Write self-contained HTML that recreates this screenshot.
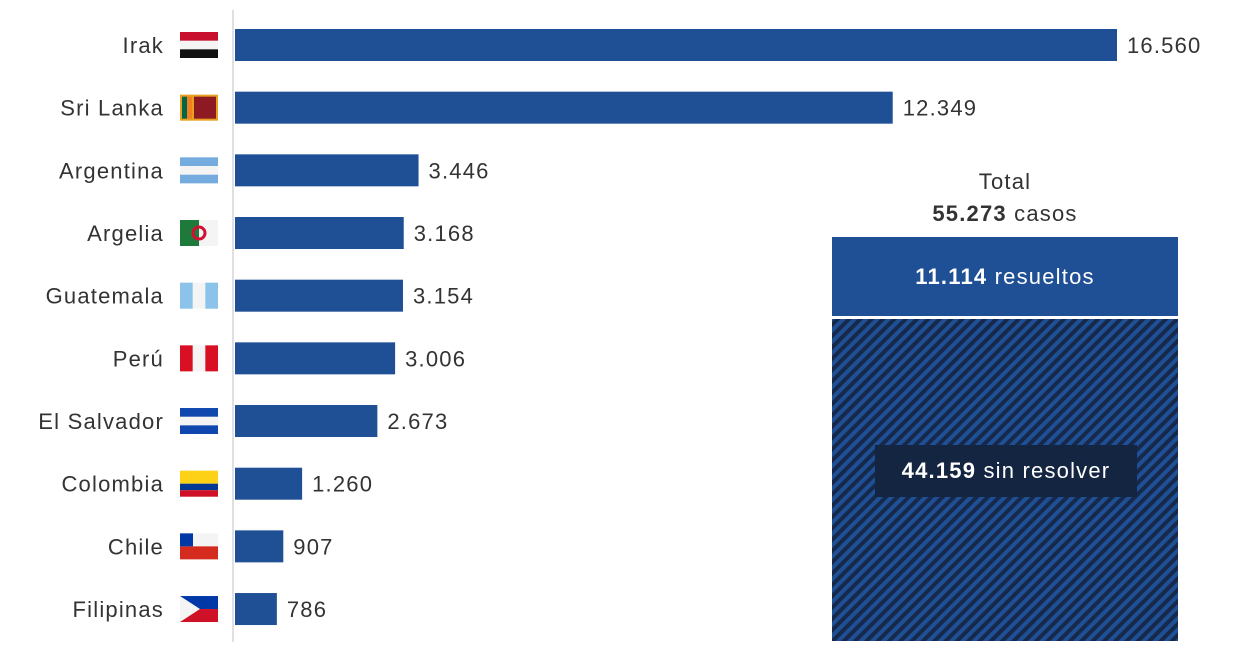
<!DOCTYPE html>
<html><head><meta charset="utf-8"><style>
html,body{margin:0;padding:0;background:#fff;}
svg{display:block;font-family:"Liberation Sans",sans-serif;}
text{letter-spacing:1.2px;}
</style></head><body>
<svg id="chart" width="1242" height="648" viewBox="0 0 1242 648">
<defs>
<pattern id="hatch" patternUnits="userSpaceOnUse" width="8" height="8" patternTransform="rotate(45)">
<rect width="8" height="8" fill="#1f4f95"/>
<rect width="4" height="8" fill="#17294a"/>
</pattern>
</defs>
<line x1="233" y1="10" x2="233" y2="642" stroke="#e0e0e0" stroke-width="2"/>
<g id="bars"></g>
<g>
<text x="1005" y="189" font-size="22" fill="#333" text-anchor="middle">Total</text>
<text x="1005" y="221" font-size="22" fill="#333" text-anchor="middle"><tspan font-weight="bold">55.273</tspan> casos</text>
<rect x="832" y="237" width="346" height="79" fill="#1f4f95"/>
<text x="1005" y="284" font-size="22" fill="#fff" text-anchor="middle"><tspan font-weight="bold">11.114</tspan> resueltos</text>
<rect x="832" y="319" width="346" height="322" fill="url(#hatch)"/>
<rect x="875" y="445" width="262" height="52" fill="#132540"/>
<text x="1006" y="478" font-size="22" fill="#fff" text-anchor="middle"><tspan font-weight="bold">44.159</tspan> sin resolver</text>
</g>
</svg>
<script>
const categories=["Irak","Sri Lanka","Argentina","Argelia","Guatemala","Perú","El Salvador","Colombia","Chile","Filipinas"];
const values=[16560,12349,3446,3168,3154,3006,2673,1260,907,786];
const valueLabels=["16.560","12.349","3.446","3.168","3.154","3.006","2.673","1.260","907","786"];
const NS="http://www.w3.org/2000/svg";
const x0=235, pxPerUnit=882/16560;
function xScale(v){return v*pxPerUnit;}
function yCenter(i){return 45+i*62.67;}
const g=document.getElementById('bars');
function mk(tag,attrs){const e=document.createElementNS(NS,tag);for(const k in attrs)e.setAttribute(k,attrs[k]);return e;}
function flag(i,name,y){
  const fg=mk('g',{});
  
  
  const x=180,w=38,h=26,t=y-13;
  const r=(xx,yy,ww,hh,c)=>fg.appendChild(mk('rect',{x:xx,y:yy,width:ww,height:hh,fill:c}));
  r(x,t,w,h,'#f4f4f4');
  switch(i){
    case 0:r(x,t,w,h/3,'#c8102e');r(x,t+2*h/3,w,h/3,'#111');break;
    case 1:r(x,t,w,h,'#e8a020');r(x+2,t+2,5,h-4,'#00664a');r(x+7,t+2,5,h-4,'#f08020');r(x+14,t+2,22,h-4,'#8d1a22');break;
    case 2:r(x,t,w,h/3,'#74acdf');r(x,t+2*h/3,w,h/3,'#74acdf');break;
    case 3:r(x,t,w/2,h,'#1e7a3a');fg.appendChild(mk('circle',{cx:x+w/2,cy:y,r:6,fill:'none',stroke:'#d21034','stroke-width':3}));break;
    case 4:r(x,t,w/3,h,'#8cc3ea');r(x+2*w/3,t,w/3,h,'#8cc3ea');break;
    case 5:r(x,t,w/3,h,'#d91023');r(x+2*w/3,t,w/3,h,'#d91023');break;
    case 6:r(x,t,w,h/3,'#0f47af');r(x,t+2*h/3,w,h/3,'#0f47af');break;
    case 7:r(x,t,w,h/2,'#fcd116');r(x,t+h/2,w,h/4,'#003893');r(x,t+3*h/4,w,h/4,'#ce1126');break;
    case 8:r(x,t+h/2,w,h/2,'#d52b1e');r(x,t,13,h/2,'#0039a6');break;
    case 9:r(x,t,w,h/2,'#0038a8');r(x,t+h/2,w,h/2,'#ce1126');fg.appendChild(mk('polygon',{points:`${x},${t} ${x+20},${y} ${x},${t+h}`,fill:'#f4f4f4'}));break;
  }
  return fg;
}
categories.forEach((c,i)=>{
  const y=yCenter(i);
  const lbl=mk('text',{x:164,y:y+8,'font-size':22,fill:'#333','text-anchor':'end'});
  lbl.textContent=c;
  
  
  g.appendChild(lbl);
  g.appendChild(flag(i,c,y));
  const w=xScale(values[i]);
  const bar=mk('rect',{x:x0,y:y-16,width:w,height:32,fill:'#1f4f95'});
  
  
  g.appendChild(bar);
  const vl=mk('text',{x:x0+w+10,y:y+8,'font-size':22,fill:'#333'});
  vl.textContent=valueLabels[i];
  
  
  g.appendChild(vl);
});
</script>
</body></html>
